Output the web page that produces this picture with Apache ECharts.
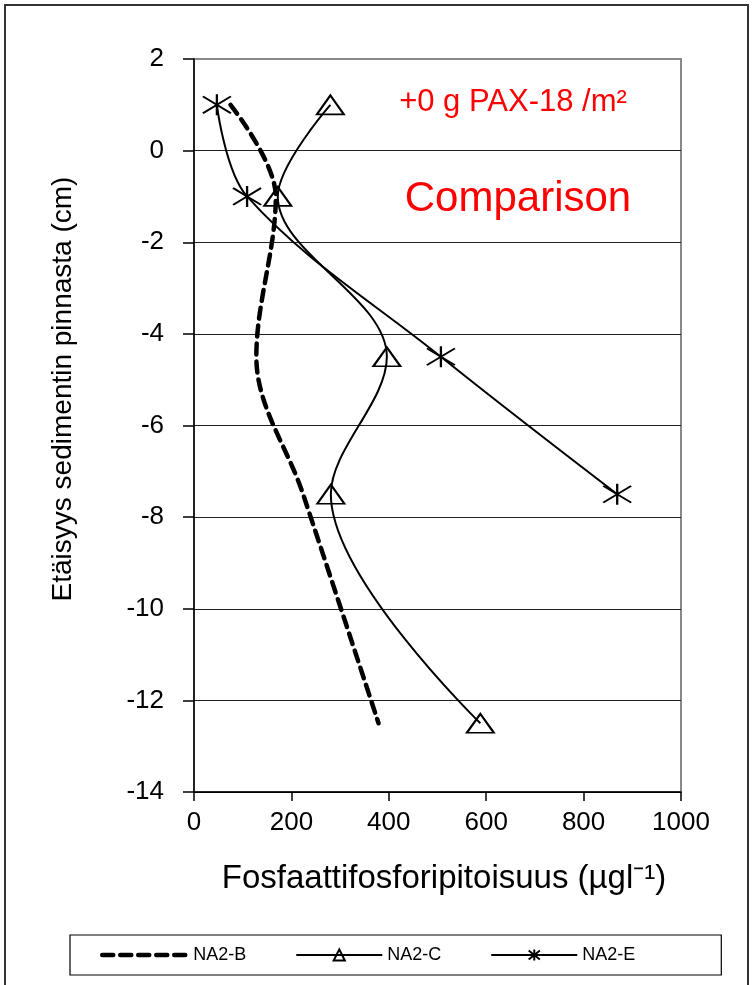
<!DOCTYPE html>
<html>
<head>
<meta charset="utf-8">
<script src="https://cdn.jsdelivr.net/npm/echarts@6/dist/echarts.min.js"></script>
<style>
  html, body { margin: 0; padding: 0; background: #fff; }
  #chart { width: 756px; height: 985px; }
</style>
</head>
<body>
<div id="chart"></div>
<script>
// depth (cm) vs phosphate concentration
const depthB = [1, -1, -4.5, -7.5, -12.5];
const valB = [75, 168, 128, 224, 379];
const depthC = [1, -1, -4.5, -7.5, -12.5];
const valC = [280, 172, 396, 281, 588];
const depthE = [1, -1, -4.5, -7.5];
const valE = [47, 109, 507, 869];

const seriesNames = ["NA2-B", "NA2-C", "NA2-E"];
const xTitle = "Fosfaattifosforipitoisuus (µgl⁻¹)";
const yTitle = "Etäisyys sedimentin pinnasta (cm)";
const note = "+0 g PAX-18 /m²";
const caption = "Comparison";

const FONT = "'Liberation Sans', Arial, sans-serif";
const toPairs = (xs, ys) => xs.map((x, i) => [x, ys[i]]);

const starPath = "path://M0,-10L0,10M-14,-8L14,8M-14,8L14,-8";
const triPath = "path://M0,-10L13,9L-13,9Z";
const SMOOTH = 0.35; // close to excel's curve
const dashStyle = { color: "#000", width: 4.5, type: [11, 7], cap: "round" };

const chart = echarts.init(document.getElementById("chart"));

const option = {
  backgroundColor: "#fff",
  animation: false,
  grid: {
    left: 194, right: 75, top: 59, bottom: 193,
    show: true, borderColor: "#888", borderWidth: 2
  },
  xAxis: {
    type: "value", min: 0, max: 1000, interval: 200,
    axisLine: { show: true, onZero: false, lineStyle: { color: "#000", width: 1.5 } },
    axisTick: { show: true, length: 9, lineStyle: { color: "#000", width: 1.5 } },
    axisLabel: { fontFamily: FONT, fontSize: 26, color: "#000", margin: 18, formatter: v => String(v) },
    splitLine: { show: false }
  },
  yAxis: {
    type: "value", min: -14, max: 2, interval: 2,
    axisLine: { show: true, onZero: false, lineStyle: { color: "#000", width: 1.5 } },
    axisTick: { show: true, length: 11, lineStyle: { color: "#000", width: 1.5 } },
    axisLabel: { fontFamily: FONT, fontSize: 26, color: "#000", margin: 30 },
    splitLine: {
      show: true,
      lineStyle: {
        color: ["#000", "#222", "#222", "#222", "#222", "#222", "#222", "#222", "#888"],
        width: 1.2
      }
    }
  },
  legend: {
    left: 70, bottom: 10,
    orient: "horizontal",
    padding: [11, 86, 11, 30],
    itemGap: 49,
    itemWidth: 86, itemHeight: 14,
    borderColor: "#000", borderWidth: 1.2,
    textStyle: { fontFamily: FONT, fontSize: 18, color: "#000" },
    data: [
      { name: seriesNames[0], itemStyle: { color: "transparent", borderWidth: 0 }, lineStyle: dashStyle },
      { name: seriesNames[1], lineStyle: { color: "#000", width: 2 } },
      { name: seriesNames[2], lineStyle: { color: "#000", width: 2 } }
    ]
  },
  series: [
    {
      name: seriesNames[0], type: "line", smooth: SMOOTH,
      data: toPairs(valB, depthB),
      symbol: "none",
      lineStyle: dashStyle,
      itemStyle: { color: "#000" }
    },
    {
      name: seriesNames[1], type: "line", smooth: SMOOTH,
      data: toPairs(valC, depthC),
      symbol: triPath, symbolSize: [27, 19],
      lineStyle: { color: "#000", width: 2 },
      itemStyle: { color: "transparent", borderColor: "#000", borderWidth: 2 }
    },
    {
      name: seriesNames[2], type: "line", smooth: SMOOTH,
      data: toPairs(valE, depthE),
      symbol: starPath, symbolSize: [28, 21],
      lineStyle: { color: "#000", width: 2 },
      itemStyle: { color: "#000", borderColor: "#000", borderWidth: 2 }
    }
  ],
  graphic: [
    {
      type: "rect", silent: true, z: -1,
      shape: { x: 5, y: 5, width: 743, height: 990 },
      style: { fill: "none", stroke: "#333", lineWidth: 2 }
    },
    {
      type: "text", x: 63, y: 389, rotation: Math.PI / 2,
      style: { text: yTitle, font: "28px " + FONT, fill: "#000", textAlign: "center", textVerticalAlign: "middle" }
    },
    {
      type: "text", x: 444, y: 879,
      style: { text: xTitle, font: "33px " + FONT, fill: "#000", textAlign: "center", textVerticalAlign: "middle" }
    },
    {
      type: "text", x: 513, y: 102,
      style: { text: note, font: "31px " + FONT, fill: "#ff0000", textAlign: "center", textVerticalAlign: "middle" }
    },
    {
      type: "text", x: 518, y: 199,
      style: { text: caption, font: "42px " + FONT, fill: "#ff0000", textAlign: "center", textVerticalAlign: "middle" }
    }
  ]
};

chart.setOption(option);
</script>
</body>
</html>
